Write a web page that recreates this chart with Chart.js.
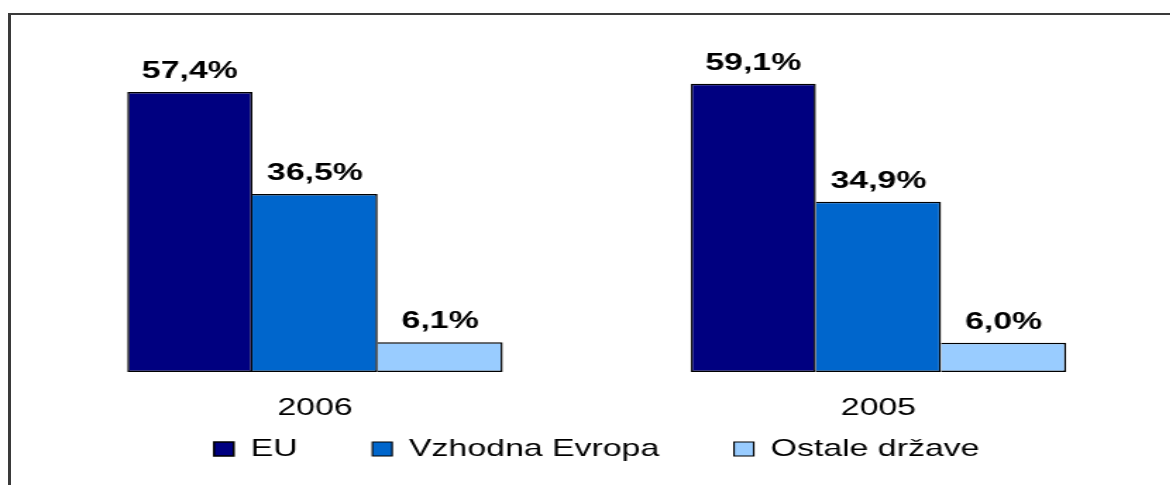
<!DOCTYPE html>
<html lang="sl">

<head>
  <meta charset="UTF-8">
  <title>Struktura izvoza po regijah</title>
  <style>
    body {
      margin: 0;
      width: 1170px;
      height: 485px;
      overflow: hidden;
      background: #fff;
      position: relative;
    }

    /* frame around the chart, only top and left edge are visible */
    .frame {
      position: absolute;
      left: 8px;
      top: 13px;
      width: 1300px;
      height: 600px;
      border-top: 2px solid #3a3a3a;
      border-left: 3px solid #3a3a3a;
    }

    /* the original picture is stretched sideways, so the chart is too */
    .stretch {
      position: absolute;
      left: 0;
      top: 0;
      transform: scaleX(1.41);
      transform-origin: 0 0;
    }
  </style>
  <script src="https://cdn.jsdelivr.net/npm/chart.js"></script>
</head>

<body>
  <div class="frame"></div>
  <div class="stretch">
    <canvas id="regionChart" width="830" height="471" style="width:830px;height:471px"></canvas>
  </div>

  <script>
    // data
    const years = ['2006', '2005'];
    const seriesNames = ['EU', 'Vzhodna Evropa', 'Ostale države'];
    const euValues = [57.4, 59.1];
    const eastValues = [36.5, 34.9];
    const otherValues = [6.1, 6.0];
    const seriesColors = ['#000080', '#0066CC', '#99CCFF'];

    const fontFamily = 'Arial, "Liberation Sans", sans-serif';

    // percent labels above each bar, with a decimal comma
    const valueLabels = {
      id: 'valueLabels',
      afterDatasetsDraw(chart) {
        const ctx = chart.ctx;
        ctx.save();
        ctx.font = 'bold 24px ' + fontFamily;
        ctx.fillStyle = '#000';
        ctx.textAlign = 'center';
        ctx.textBaseline = 'alphabetic';
        chart.data.datasets.forEach((ds, i) => {
          chart.getDatasetMeta(i).data.forEach((bar, j) => {
            const txt = ds.data[j].toFixed(1).replace('.', ',') + '%';
            ctx.fillText(txt, bar.x, bar.y - 14);
          });
        });
        ctx.restore();
      }
    };

    const allValues = [euValues, eastValues, otherValues];
    const datasets = allValues.map((vals, i) => ({
      label: seriesNames[i],
      data: vals,
      backgroundColor: seriesColors[i],
      borderColor: '#000',
      // neighbouring bars share one edge line
      borderWidth: i === 0 ? 1.5 : { top: 1.5, right: 1.5, bottom: 1.5, left: 0 },
      borderSkipped: false,
      barPercentage: 1,
      categoryPercentage: 0.6664
    }));

    new Chart(document.getElementById('regionChart'), {
      type: 'bar',
      data: {
        labels: years,
        datasets: datasets
      },
      options: {
        responsive: false,
        animation: false,
        layout: {
          padding: { top: 30.5, left: 23.6, right: 7.2, bottom: 0 }
        },
        scales: {
          x: {
            grid: { display: false, drawTicks: false },
            border: { display: false },
            ticks: {
              color: '#000',
              // mirrored so the labels are not clipped to the short axis box
              mirror: true,
              padding: -50.8,
              font: { family: fontFamily, size: 24 }
            },
            // keep the axis box short so the legend can sit right under it
            afterFit(scale) {
              scale.height = 12;
            }
          },
          y: {
            display: false,
            min: 0,
            max: 70
          }
        },
        plugins: {
          tooltip: { enabled: false },
          legend: {
            position: 'bottom',
            labels: {
              color: '#000',
              boxWidth: 14,
              boxHeight: 14,
              padding: 53,
              font: { family: fontFamily, size: 24 }
            }
          }
        }
      },
      plugins: [valueLabels]
    });
  </script>
</body>

</html>
